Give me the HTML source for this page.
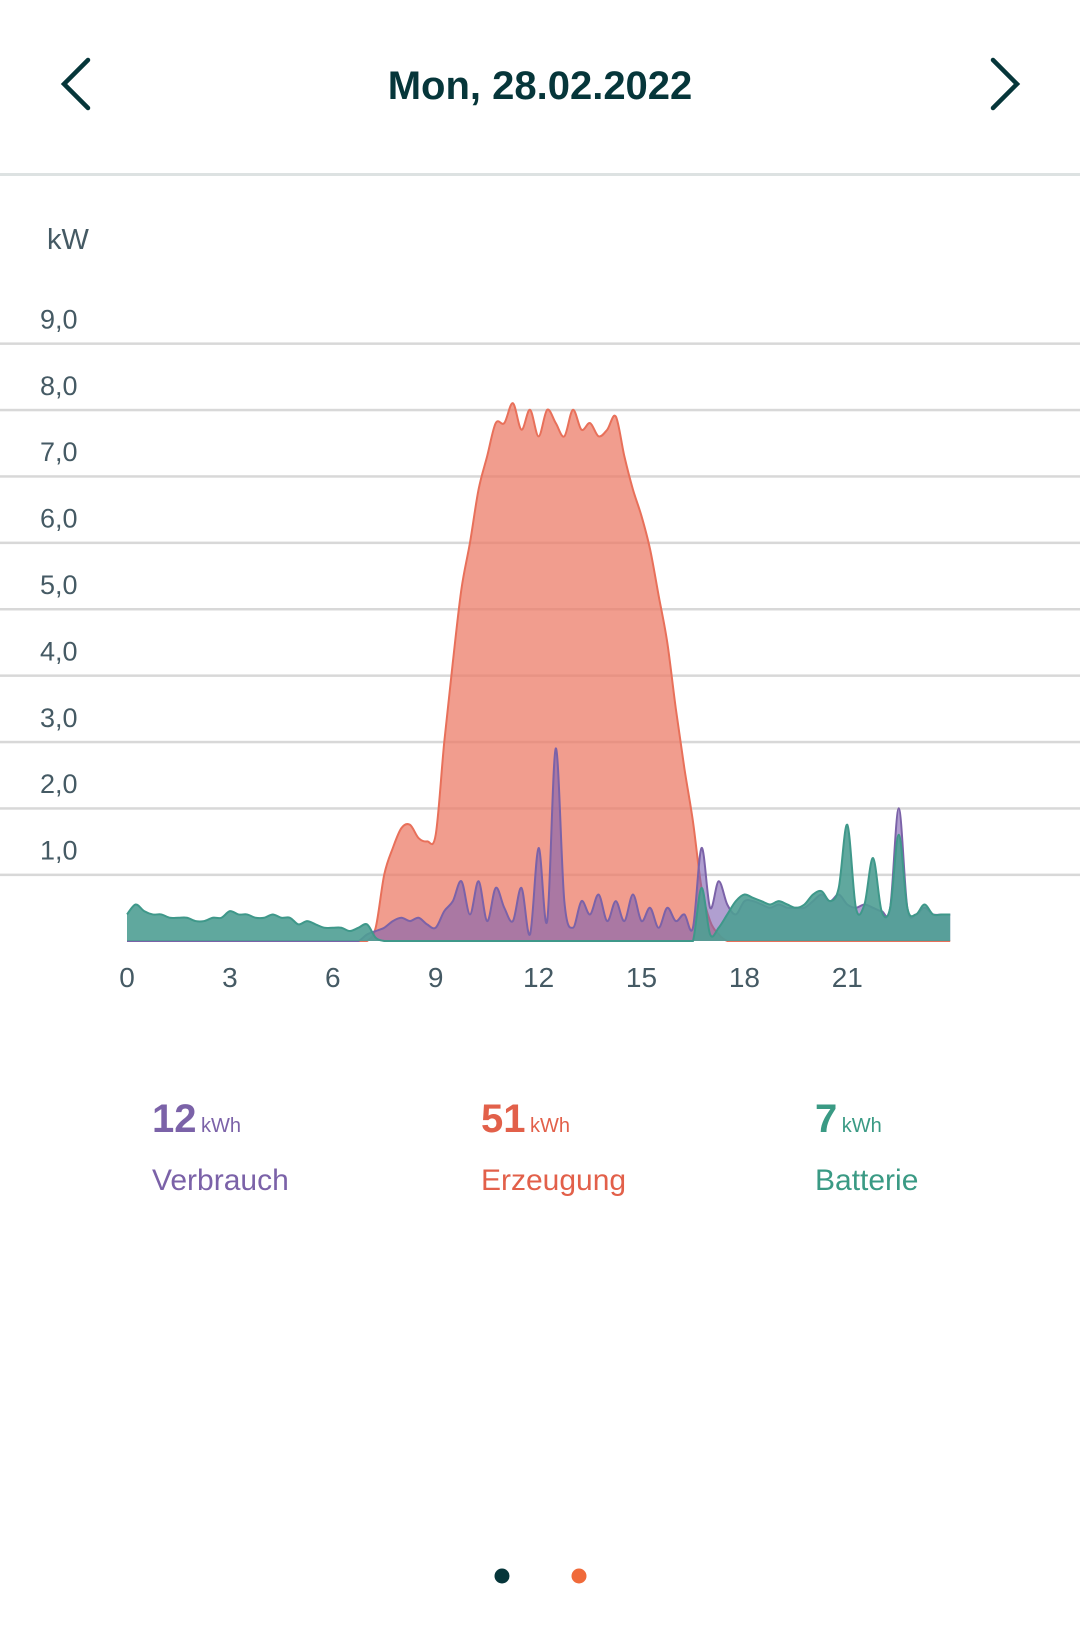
<!DOCTYPE html>
<html><head><meta charset="utf-8"><style>
body{margin:0;width:1080px;height:1630px;background:#fff;font-family:"Liberation Sans",sans-serif;position:relative;overflow:hidden}
.a{position:absolute;white-space:nowrap}
</style></head><body>
<svg class="a" style="left:0;top:0" width="1080" height="1630">
<polyline points="88,60 64,84 88,108" fill="none" stroke="#06363a" stroke-width="4.5" stroke-linecap="round"/>
<polyline points="993,60 1017,84 993,108" fill="none" stroke="#06363a" stroke-width="4.5" stroke-linecap="round"/>
<text x="540" y="99" text-anchor="middle" font-size="40" font-weight="bold" fill="#06363a" font-family="Liberation Sans, sans-serif">Mon, 28.02.2022</text>
<rect x="0" y="173" width="1080" height="3" fill="#dde2e2"/>
<text x="47" y="249" font-size="29" fill="#455a64" font-family="Liberation Sans, sans-serif">kW</text>
<g id="grid"></g><g id="series"></g><g id="xl"></g>
<circle cx="502" cy="1576" r="7.5" fill="#06363a"/>
<circle cx="579" cy="1576" r="7.5" fill="#f06a3a"/>
</svg>
<div class="a" style="left:152px;top:1097px;color:#7b62a8"><span style="font-size:40px;font-weight:bold">12</span> <span style="font-size:20px">kWh</span><div style="font-size:30px;margin-top:22px">Verbrauch</div></div>
<div class="a" style="left:481px;top:1097px;color:#e2604a"><span style="font-size:40px;font-weight:bold">51</span> <span style="font-size:20px">kWh</span><div style="font-size:30px;margin-top:22px">Erzeugung</div></div>
<div class="a" style="left:815px;top:1097px;color:#3a9a84"><span style="font-size:40px;font-weight:bold">7</span> <span style="font-size:20px">kWh</span><div style="font-size:30px;margin-top:22px">Batterie</div></div>
<script>
const hours=[];for(let i=0;i<=96;i++)hours.push(i/4);
const yTicks=[1,2,3,4,5,6,7,8,9];
const yTickLabels=["1,0","2,0","3,0","4,0","5,0","6,0","7,0","8,0","9,0"];
const xTicks=[0,3,6,9,12,15,18,21];
const generation=[0,0,0,0,0,0,0,0,0,0,0,0,0,0,0,0,0,0,0,0,0,0,0,0,0,0,0,0,0,0.2,1.0,1.4,1.7,1.75,1.55,1.5,1.6,3.0,4.2,5.3,6.0,6.8,7.3,7.8,7.8,8.1,7.7,8.0,7.6,8.0,7.8,7.6,8.0,7.7,7.8,7.6,7.7,7.9,7.3,6.8,6.4,5.9,5.2,4.5,3.5,2.6,1.8,0.8,0.3,0.1,0,0,0,0,0,0,0,0,0,0,0,0,0,0,0,0,0,0,0,0,0,0,0,0,0,0,0];
const consumption=[0,0,0,0,0,0,0,0,0,0,0,0,0,0,0,0,0,0,0,0,0,0,0,0,0,0,0,0,0.1,0.15,0.2,0.3,0.35,0.3,0.35,0.25,0.2,0.45,0.6,0.9,0.4,0.9,0.3,0.8,0.5,0.3,0.8,0.1,1.4,0.3,2.9,0.6,0.2,0.6,0.4,0.7,0.3,0.6,0.3,0.7,0.3,0.5,0.2,0.5,0.3,0.4,0.2,1.4,0.5,0.9,0.55,0.4,0.6,0.6,0.55,0.5,0.55,0.5,0.5,0.5,0.6,0.7,0.6,0.7,0.55,0.5,0.55,0.5,0.45,0.5,2.0,0.5,0.4,0.5,0.4,0.4,0.4];
const battery=[0.4,0.55,0.45,0.4,0.4,0.35,0.35,0.35,0.3,0.3,0.35,0.35,0.45,0.4,0.4,0.35,0.35,0.4,0.35,0.35,0.25,0.3,0.25,0.2,0.2,0.2,0.15,0.2,0.25,0.05,0,0,0,0,0,0,0,0,0,0,0,0,0,0,0,0,0,0,0,0,0,0,0,0,0,0,0,0,0,0,0,0,0,0,0,0,0,0.8,0.1,0.2,0.4,0.6,0.7,0.65,0.6,0.55,0.6,0.55,0.5,0.55,0.7,0.75,0.6,0.8,1.75,0.5,0.55,1.25,0.45,0.5,1.6,0.5,0.4,0.55,0.4,0.4,0.4];
const NS="http://www.w3.org/2000/svg";
const X=h=>127+h*34.3, Y=v=>941-v*66.4;
const grid=document.getElementById('grid');
yTicks.forEach((t,i)=>{
 const l=document.createElementNS(NS,'rect');
 
 
 l.setAttribute('x',0);l.setAttribute('y',Y(t)-1);l.setAttribute('width',1080);l.setAttribute('height',2.5);l.setAttribute('fill','#d8d8d8');grid.appendChild(l);
 const tx=document.createElementNS(NS,'text');
 
 
 tx.setAttribute('x',40);tx.setAttribute('y',Y(t)-15);tx.setAttribute('font-size',27);tx.setAttribute('fill','#455a64');tx.textContent=yTickLabels[i];grid.appendChild(tx);
});
const xl=document.getElementById('xl');
xTicks.forEach(t=>{
 const tx=document.createElementNS(NS,'text');
 
 
 tx.setAttribute('x',X(t));tx.setAttribute('y',987);tx.setAttribute('text-anchor','middle');tx.setAttribute('font-size',28);tx.setAttribute('fill','#455a64');tx.textContent=t;xl.appendChild(tx);
});
function smooth(vals){
 const p=vals.map((v,i)=>[X(hours[i]),Y(v)]);
 let d='M'+p[0][0]+','+p[0][1];
 for(let i=0;i<p.length-1;i++){
  const p0=p[Math.max(0,i-1)],p1=p[i],p2=p[i+1],p3=p[Math.min(p.length-1,i+2)];
  const c1=[p1[0]+(p2[0]-p0[0])/6,Math.min(941,p1[1]+(p2[1]-p0[1])/6)];
  const c2=[p2[0]-(p3[0]-p1[0])/6,Math.min(941,p2[1]-(p3[1]-p1[1])/6)];
  d+=` C${c1[0]},${c1[1]} ${c2[0]},${c2[1]} ${p2[0]},${p2[1]}`;
 }
 return d;
}
const ser=document.getElementById('series');
function area(vals,fill,op,stroke,name){
 const line=smooth(vals);
 const a=document.createElementNS(NS,'path');
 
 
 a.setAttribute('d',line+` L${X(24)},${Y(0)} L${X(0)},${Y(0)} Z`);
 a.setAttribute('fill',fill);a.setAttribute('fill-opacity',op);ser.appendChild(a);
 const s=document.createElementNS(NS,'path');
 
 
 s.setAttribute('d',line);s.setAttribute('fill','none');s.setAttribute('stroke',stroke);s.setAttribute('stroke-width',2);ser.appendChild(s);
}
area(generation,'#ec7c68',0.75,'#e8705a','generation-area');
area(consumption,'#7b5fb0',0.6,'#7b62a8','consumption-area');
area(battery,'#4f9e94',0.9,'#3f988a','battery-area');
</script>
</body></html>
